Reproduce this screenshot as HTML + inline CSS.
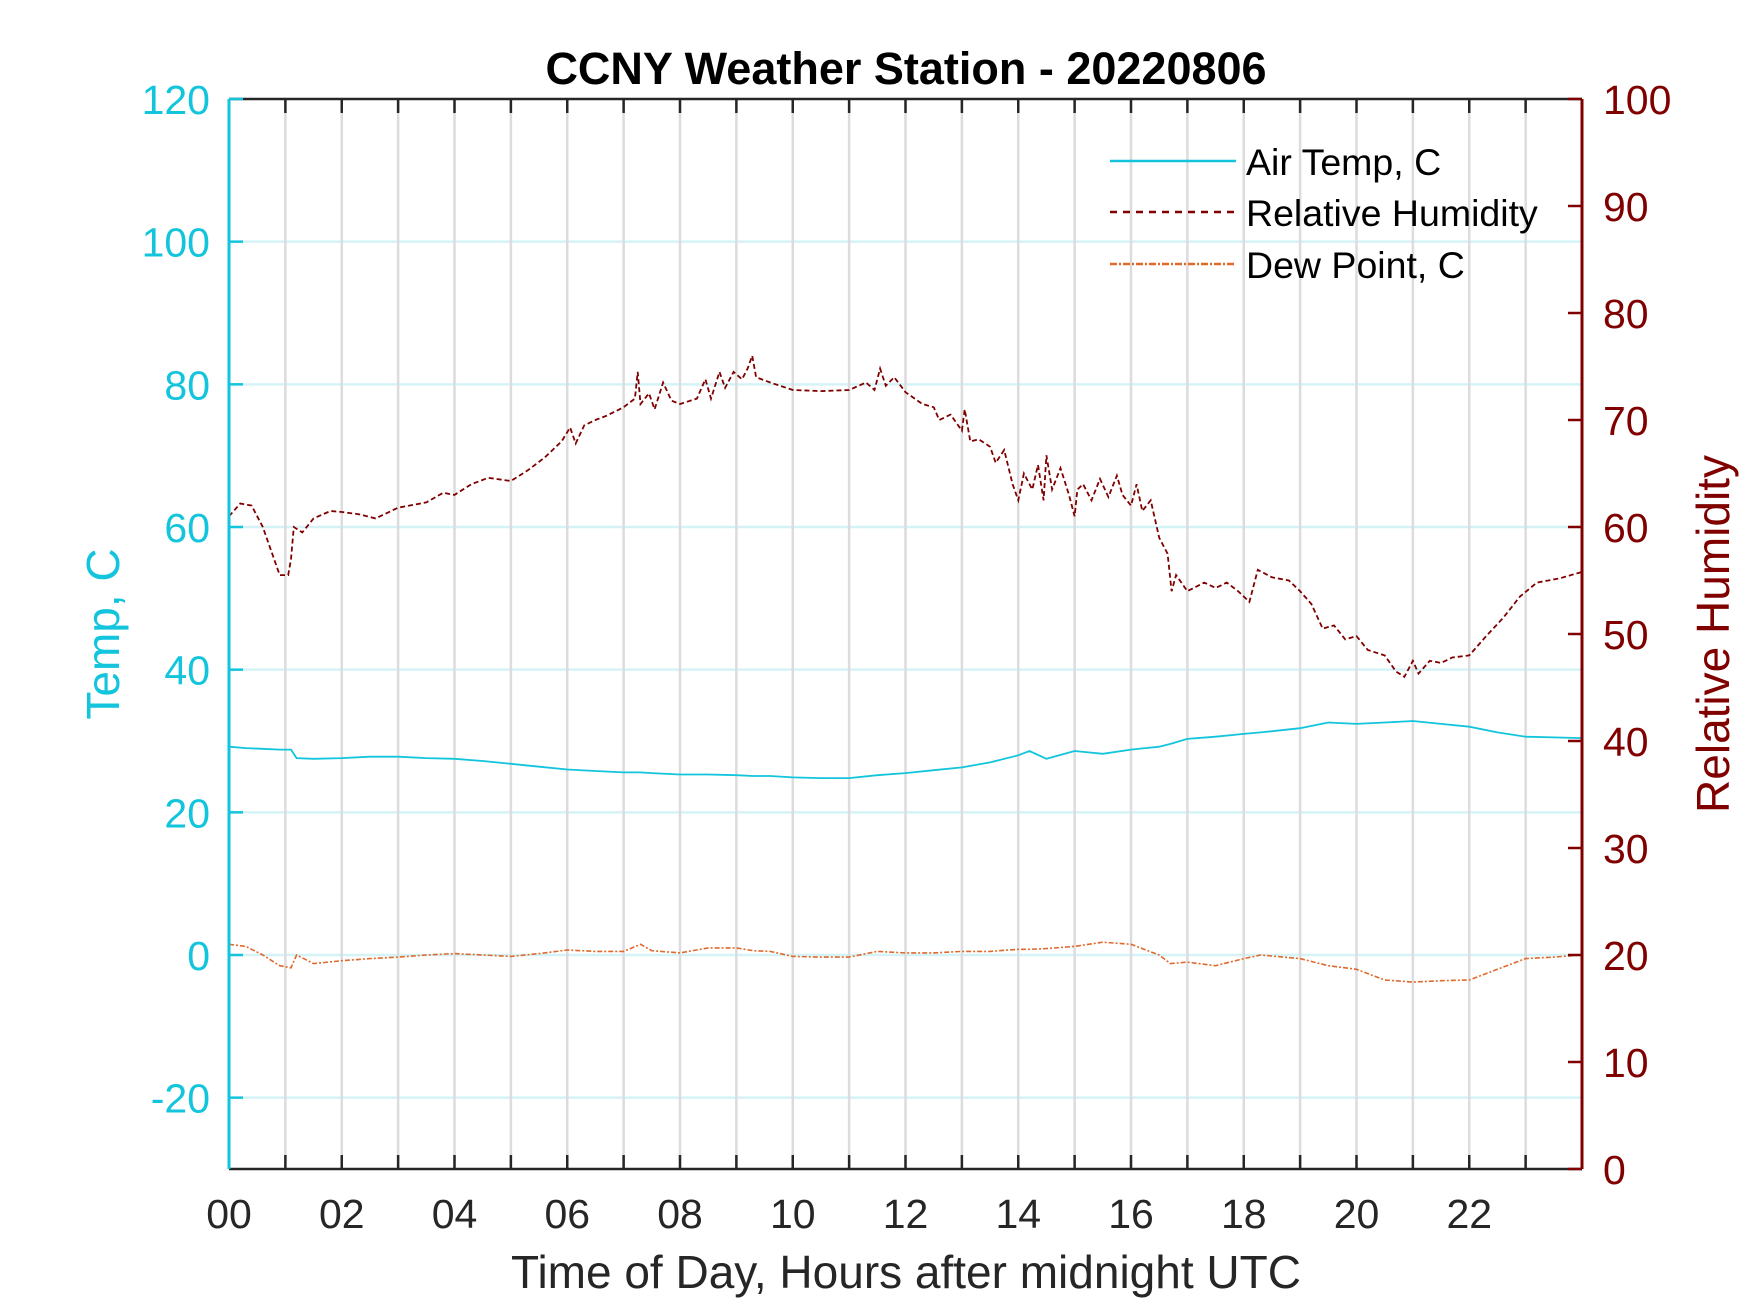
<!DOCTYPE html>
<html><head><meta charset="utf-8"><style>
html,body{margin:0;padding:0;background:#fff;}
svg{display:block;font-family:"Liberation Sans",Arial,sans-serif;}
</style></head><body>
<svg id="chart" width="1750" height="1313" viewBox="0 0 1750 1313">
<rect width="1750" height="1313" fill="#fff"/>
<g id="grid"></g><g id="series"></g><g id="axes"></g>
<text x="906" y="84" text-anchor="middle" font-size="45" font-weight="bold" fill="#000">CCNY Weather Station - 20220806</text>
<text x="906" y="1288" text-anchor="middle" font-size="46" fill="#262626">Time of Day, Hours after midnight UTC</text>
<text transform="translate(119,634) rotate(-90)" text-anchor="middle" font-size="46" fill="#12c5dc">Temp, C</text>
<text transform="translate(1729,634) rotate(-90)" text-anchor="middle" font-size="46" fill="#800000">Relative Humidity</text>
<g id="legend">
<line x1="1110" y1="161" x2="1236" y2="161" stroke="#12c5dc" stroke-width="2.5"/>
<text x="1246" y="175" font-size="37.5" fill="#000">Air Temp, C</text>
<line x1="1110" y1="212" x2="1236" y2="212" stroke="#800000" stroke-width="2.5" stroke-dasharray="7,6"/>
<text x="1246" y="226" font-size="37.5" fill="#000">Relative Humidity</text>
<line x1="1110" y1="264" x2="1236" y2="264" stroke="#e06a2c" stroke-width="2.5" stroke-dasharray="7,2,2,2"/>
<text x="1246" y="278" font-size="37.5" fill="#000">Dew Point, C</text>
</g>
</svg>
<script>
const hours=[0,0.3,0.6,0.9,1.1,1.2,1.5,2,2.5,3,3.5,4,4.5,5,5.5,6,6.5,7,7.3,7.5,8,8.5,9,9.3,9.6,10,10.5,11,11.5,12,12.5,13,13.5,14,14.2,14.5,15,15.5,16,16.5,16.7,17,17.5,18,18.3,19,19.5,20,20.5,21,21.5,22,22.5,23,23.5,24];
const airTemp=[29.2,29,28.9,28.8,28.8,27.6,27.5,27.6,27.8,27.8,27.6,27.5,27.2,26.8,26.4,26,25.8,25.6,25.6,25.5,25.3,25.3,25.2,25.1,25.1,24.9,24.8,24.8,25.2,25.5,25.9,26.3,27,28,28.6,27.5,28.6,28.2,28.8,29.2,29.6,30.3,30.6,31,31.2,31.8,32.6,32.4,32.6,32.8,32.4,32,31.2,30.6,30.5,30.4];
const dewPoint=[1.5,1.2,0,-1.5,-1.8,0,-1.2,-0.8,-0.5,-0.3,0,0.2,0,-0.2,0.2,0.7,0.5,0.5,1.5,0.6,0.3,1,1,0.6,0.5,-0.2,-0.3,-0.3,0.5,0.3,0.3,0.5,0.5,0.8,0.8,0.9,1.2,1.8,1.5,0,-1.2,-1,-1.5,-0.5,0,-0.5,-1.5,-2,-3.5,-3.8,-3.6,-3.5,-2,-0.5,-0.3,0];
const rhHours=[0,0.2,0.4,0.6,0.8,0.9,1.05,1.1,1.15,1.3,1.5,1.8,2,2.3,2.6,3,3.5,3.8,4,4.3,4.6,5,5.3,5.6,5.9,6.05,6.15,6.3,6.5,6.7,7,7.2,7.25,7.3,7.45,7.55,7.7,7.85,8,8.3,8.45,8.55,8.7,8.8,8.95,9.1,9.2,9.28,9.35,9.6,10,10.5,11,11.3,11.45,11.55,11.65,11.8,12,12.3,12.5,12.6,12.8,13,13.05,13.15,13.3,13.5,13.6,13.75,13.9,14,14.1,14.25,14.35,14.45,14.5,14.6,14.75,14.9,15,15.05,15.15,15.3,15.45,15.6,15.75,15.85,16,16.1,16.2,16.35,16.5,16.65,16.72,16.8,17,17.3,17.5,17.7,17.9,18.1,18.25,18.5,18.8,19,19.2,19.4,19.6,19.8,20,20.2,20.5,20.7,20.85,21,21.1,21.3,21.5,21.7,22,22.3,22.6,22.9,23.2,23.6,24];
const humidity=[61,62.2,62,60,57,55.5,55.5,57,60,59.5,60.8,61.5,61.4,61.2,60.8,61.8,62.3,63.2,63,64,64.6,64.3,65.3,66.5,68,69.3,67.8,69.5,70,70.4,71.2,72,74.5,71.5,72.5,71,73.5,71.8,71.5,72,73.8,72,74.5,73,74.5,73.8,74.8,76,74,73.5,72.8,72.7,72.8,73.5,72.8,74.8,73.2,74,72.6,71.5,71.2,70,70.5,69,71,68,68.2,67.5,66,67.2,64,62.5,65,63.5,65.8,62.5,66.7,63.5,65.5,63,61,63.5,64,62.5,64.5,62.8,64.8,63,62,64,61.5,62.5,59,57.5,54,55.5,54,54.8,54.3,54.8,54,53,56,55.3,55,54,52.8,50.5,50.8,49.5,49.8,48.5,48,46.5,46,47.5,46.3,47.5,47.3,47.8,48,49.8,51.5,53.5,54.8,55.2,55.8];
const leftTicks=[-20,0,20,40,60,80,100,120];
const rightTicks=[0,10,20,30,40,50,60,70,80,90,100];
const xLabels=["00","02","04","06","08","10","12","14","16","18","20","22"];

const L=229,R=1582,T=99,B=1169;
const X=h=>L+(R-L)*h/24;
const YL=v=>B-(B-T)*(v+30)/150;
const YR=v=>B-(B-T)*v/100;
const NS="http://www.w3.org/2000/svg";
function mk(tag,attrs,parent){const e=document.createElementNS(NS,tag);for(const k in attrs)e.setAttribute(k,attrs[k]);parent.appendChild(e);return e;}
const grid=document.getElementById('grid'),ser=document.getElementById('series'),ax=document.getElementById('axes');
for(const v of leftTicks){if(v===120)continue;const l=mk('line',{x1:L,x2:R,y1:YL(v),y2:YL(v),stroke:'#d4f3f7','stroke-width':2.5},grid);

}
for(let h=1;h<24;h++){const l=mk('line',{x1:X(h),x2:X(h),y1:T,y2:B,stroke:'#dcdcdc','stroke-width':2.5},grid);

}
function path(xs,vals,yf,attrs,name){const d=xs.map((h,i)=>(i?'L':'M')+X(h).toFixed(1)+','+yf(vals[i]).toFixed(1)).join('');const p=mk('path',Object.assign({d:d,fill:'none'},attrs),ser);

}
path(rhHours,humidity,YR,{stroke:'#800000','stroke-width':1.8,'stroke-dasharray':'5,3'},'series-relative-humidity');
path(hours,airTemp,YL,{stroke:'#12c5dc','stroke-width':1.8},'series-air-temp');
path(hours,dewPoint,YL,{stroke:'#e06a2c','stroke-width':1.6,'stroke-dasharray':'5,2,2,2'},'series-dew-point');
mk('line',{x1:L,x2:R,y1:T,y2:T,stroke:'#262626','stroke-width':2.5},ax);
mk('line',{x1:L,x2:R,y1:B,y2:B,stroke:'#262626','stroke-width':2.5},ax);
mk('line',{x1:L,x2:L,y1:T,y2:B,stroke:'#12c5dc','stroke-width':3},ax);
mk('line',{x1:R,x2:R,y1:T,y2:B,stroke:'#800000','stroke-width':3},ax);
for(let h=1;h<24;h++){mk('line',{x1:X(h),x2:X(h),y1:B,y2:B-14,stroke:'#262626','stroke-width':2.5},ax);mk('line',{x1:X(h),x2:X(h),y1:T,y2:T+14,stroke:'#262626','stroke-width':2.5},ax);}
xLabels.forEach((s,i)=>{const t=mk('text',{x:X(i*2),y:1228,'text-anchor':'middle','font-size':41,fill:'#262626'},ax);t.textContent=s;

});
leftTicks.forEach(v=>{mk('line',{x1:L,x2:L+14,y1:YL(v),y2:YL(v),stroke:'#12c5dc','stroke-width':2.5},ax);const t=mk('text',{x:210,y:YL(v)+15,'text-anchor':'end','font-size':41,fill:'#12c5dc'},ax);t.textContent=v;

});
rightTicks.forEach(v=>{mk('line',{x1:R,x2:R-14,y1:YR(v),y2:YR(v),stroke:'#800000','stroke-width':2.5},ax);const t=mk('text',{x:1603,y:YR(v)+15,'text-anchor':'start','font-size':41,fill:'#800000'},ax);t.textContent=v;

});
</script>
</body></html>
